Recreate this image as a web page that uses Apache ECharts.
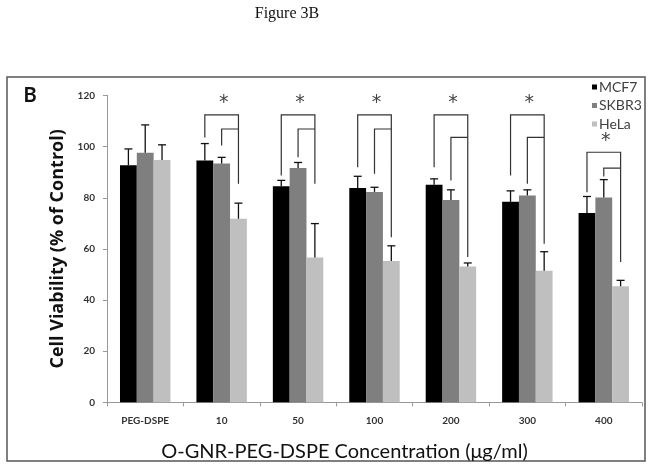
<!DOCTYPE html>
<html><head><meta charset="utf-8">
<script src="https://cdn.jsdelivr.net/npm/echarts@6/dist/echarts.min.js"></script>
<style>html,body{margin:0;padding:0;background:#fff}#c{width:651px;height:466px}</style>
</head><body><div id="c"></div>
<script>
const categories = ['PEG-DSPE', '10', '50', '100', '200', '300', '400'];
const seriesNames = ['MCF7', 'SKBR3', 'HeLa'];
const mcf7 = [92.7, 94.6, 84.5, 83.8, 85.1, 78.4, 74.0];
const skbr3 = [97.6, 93.4, 91.6, 82.3, 79.1, 80.9, 80.1];
const hela = [94.8, 71.8, 56.6, 55.3, 53.1, 51.5, 45.4];
const mcf7Err = [6.4, 6.6, 2.3, 4.6, 2.3, 4.3, 6.5];
const skbr3Err = [10.9, 2.4, 2.2, 1.8, 4.0, 2.2, 7.0];
const helaErr = [5.9, 6.1, 13.3, 5.9, 1.4, 7.4, 2.3];
// significance brackets: [category index, outer top, outer left end, inner top, inner left end, right end]
const brackets = [
  [1, 112.4, 103.6, 106.9, 100.4, 85.5],
  [2, 112.4, 88.7, 106.9, 95.8, 85.5],
  [3, 112.4, 91.9, 106.9, 89.4, 64.6],
  [4, 112.4, 91.9, 103.6, 86.8, 56.8],
  [5, 112.4, 88.7, 103.6, 85.5, 62.0],
  [6, 97.8, 82.2, 91.6, 88.3, 54.9]
];
// asterisks: [category index, value]
const stars = [[1, 118.6], [2, 118.6], [3, 118.6], [4, 118.6], [5, 118.6], [6, 103.9]];
const yTicks = [0, 20, 40, 60, 80, 100, 120];

const colors = ['#000000', '#7f7f7f', '#bfbfbf'];
const values = [mcf7, skbr3, hela];
const errs = [mcf7Err, skbr3Err, helaErr];
const CAT_GAP = 0.34;

const errData = [];
values.forEach((arr, s) => arr.forEach((v, i) => errData.push([i, s, v, errs[s][i]])));

function barGeom(api, cat, s) {
  const band = api.size([1, 0])[0];
  const bw = band * (1 - CAT_GAP) / 3;
  const cx = api.coord([cat, 0])[0];
  return { x: cx + (s - 1) * bw, bw: bw };
}

const chart = echarts.init(document.getElementById('c'), null, { renderer: 'canvas' });
chart.setOption({
  animation: false,
  backgroundColor: '#fff',
  color: colors,
  grid: { left: 107, right: 9, top: 95.5, bottom: 63.7, outerBoundsMode: 'none', containLabel: false },
  legend: {
    data: seriesNames, orient: 'vertical', left: 587, top: 75,
    icon: 'rect', itemWidth: 5, itemHeight: 5, itemGap: 4.5,
    textStyle: { fontFamily: 'Lato', fontSize: 14, color: '#404040', padding: [0, 0, 0, -3] }
  },
  xAxis: {
    type: 'category', data: categories,
    axisLine: { lineStyle: { color: '#999', width: 1 } },
    axisTick: { show: true, length: 4, lineStyle: { color: '#999' } },
    axisLabel: { fontFamily: 'Lato', fontWeight: 'bold', fontSize: 10, color: '#333', margin: 13 },
    name: 'O-GNR-PEG-DSPE Concentration (μg/ml)', nameLocation: 'middle', nameGap: 39,
    nameTextStyle: { fontFamily: 'Lato', fontSize: 20, color: '#111', padding: [0, 60, 0, 0] }
  },
  yAxis: {
    type: 'value', min: 0, max: 120, interval: 20,
    axisLine: { show: true, lineStyle: { color: '#999', width: 1 } },
    axisTick: { show: true, length: 4, lineStyle: { color: '#999' } },
    splitLine: { show: false },
    axisLabel: { fontFamily: 'Lato', fontWeight: 'bold', fontSize: 10, color: '#333', margin: 12,
      formatter: v => yTicks.includes(v) ? String(v) : '' },
    name: 'Cell Viability (% of Control)', nameLocation: 'middle', nameGap: 36,
    nameTextStyle: { fontFamily: 'Open Sans', fontWeight: 'bold', fontSize: 18, color: '#111' }
  },
  series: [
    ...seriesNames.map((n, s) => ({
      name: n, type: 'bar', data: values[s], barGap: 0, barCategoryGap: (CAT_GAP * 100) + '%',
      itemStyle: { color: colors[s] }
    })),
    {
      type: 'custom', name: 'err', silent: true, z: 3,
      encode: { x: 0, y: 2 },
      data: errData,
      renderItem: function (params, api) {
        const cat = api.value(0), s = api.value(1), v = api.value(2), e = api.value(3);
        const g = barGeom(api, cat, s);
        const y0 = api.coord([cat, v])[1];
        const y1 = api.coord([cat, v + e])[1];
        const cap = 4;
        return {
          type: 'group', children: [
            { type: 'line', shape: { x1: g.x, y1: y0, x2: g.x, y2: y1 }, style: { stroke: '#111', lineWidth: 1.3 } },
            { type: 'line', shape: { x1: g.x - cap, y1: y1, x2: g.x + cap, y2: y1 }, style: { stroke: '#111', lineWidth: 1.3 } }
          ]
        };
      }
    },
    {
      type: 'custom', name: 'brackets', silent: true, z: 4,
      encode: { x: 0, y: 1 },
      data: brackets,
      renderItem: function (params, api) {
        const cat = api.value(0);
        const xl = barGeom(api, cat, 0).x, xm = barGeom(api, cat, 1).x, xr = barGeom(api, cat, 2).x;
        const Y = v => api.coord([cat, v])[1];
        const st = { stroke: '#333', lineWidth: 1.2, fill: null };
        return {
          type: 'group', children: [
            { type: 'polyline', shape: { points: [[xl, Y(api.value(2))], [xl, Y(api.value(1))], [xr, Y(api.value(1))], [xr, Y(api.value(5))]] }, style: st },
            { type: 'polyline', shape: { points: [[xm, Y(api.value(4))], [xm, Y(api.value(3))], [xr, Y(api.value(3))]] }, style: st }
          ]
        };
      }
    },
    {
      type: 'custom', name: 'stars', silent: true, z: 5,
      encode: { x: 0, y: 1 },
      data: stars,
      renderItem: function (params, api) {
        const p = api.coord([api.value(0), api.value(1)]);
        return { type: 'text', x: p[0] + 2, y: p[1] + 4, style: { text: '*', fontFamily: 'DejaVu Sans', fontSize: 19, fill: '#444', align: 'center', verticalAlign: 'middle' } };
      }
    }
  ],
  graphic: [
    { type: 'rect', shape: { x: 7, y: 77, width: 638, height: 384 }, style: { fill: null, stroke: '#555', lineWidth: 1.5 }, silent: true },
    { type: 'text', x: 287, y: 14, style: { text: 'Figure 3B', fontFamily: 'Liberation Serif', fontSize: 16, fill: '#111', align: 'center', verticalAlign: 'middle' } },
    { type: 'text', x: 30, y: 96, style: { text: 'B', fontFamily: 'Lato', fontWeight: 'bold', fontSize: 20, fill: '#111', align: 'center', verticalAlign: 'middle' } }
  ]
});
</script></body></html>
